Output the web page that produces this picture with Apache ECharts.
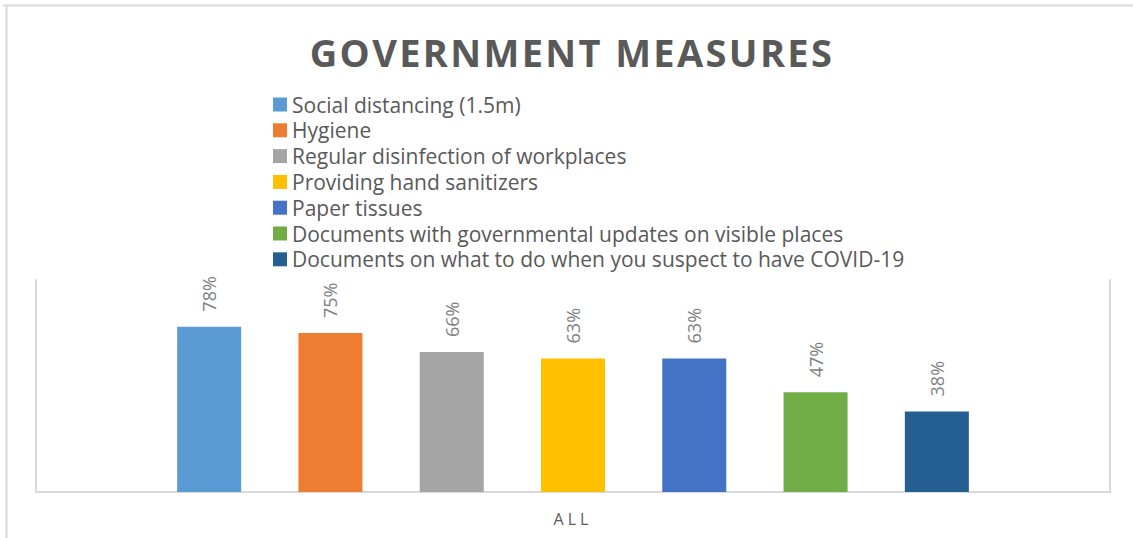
<!DOCTYPE html>
<html>
<head>
<meta charset="utf-8">
<title>Government measures</title>
<script src="https://cdn.jsdelivr.net/npm/echarts@6/dist/echarts.min.js"></script>
<style>
  html, body { margin: 0; padding: 0; background: #ffffff; }
  #chart { width: 1133px; height: 538px; }
</style>
</head>
<body>
<div id="chart"></div>
<script>
// Survey data: share of respondents reporting each measure
const categories = ['ALL'];
const seriesNames = [
  'Social distancing (1.5m)',
  'Hygiene',
  'Regular disinfection of workplaces',
  'Providing hand sanitizers',
  'Paper tissues',
  'Documents with governmental updates on visible places',
  'Documents on what to do when you suspect to have COVID-19'
];
const seriesValues = [78, 75, 66, 63, 63, 47, 38];
const seriesColors = ['#5B9BD5', '#ED7D31', '#A5A5A5', '#FFC000', '#4472C4', '#70AD47', '#255E91'];
const titleText = 'GOVERNMENT MEASURES';

const FONT = 'Open Sans';
const frame = '#d9d9d9';

const chart = echarts.init(document.getElementById('chart'), null, { renderer: 'svg' });

const series = seriesNames.map((name, i) => ({
  type: 'bar',
  name: name,
  data: [seriesValues[i]],
  barWidth: 64,
  barGap: '89.5%',
  itemStyle: { color: seriesColors[i] },
  label: {
    show: true,
    position: 'top',
    rotate: 90,
    align: 'left',
    verticalAlign: 'middle',
    distance: 15,
    formatter: '{c}%',
    color: '#7f7f7f',
    fontFamily: FONT,
    fontSize: 18
  }
}));

chart.setOption({
  animation: false,
  backgroundColor: '#ffffff',
  title: {
    text: titleText,
    left: 567,
    textAlign: 'center',
    top: 28,
    textStyle: { fontFamily: FONT, fontWeight: 'bold', fontSize: 38, color: '#595959' }
  },
  legend: {
    orient: 'vertical',
    left: 273,
    top: 93.5,
    padding: 0,
    itemWidth: 14,
    itemHeight: 14,
    itemGap: 3.8,
    icon: 'rect',
    selectedMode: false,
    textStyle: { fontFamily: FONT, fontSize: 21, lineHeight: 22, color: '#595959' }
  },
  grid: { left: 36, right: 23, top: 280, bottom: 46, containLabel: false },
  xAxis: {
    type: 'category',
    data: categories,
    axisLine: { show: true, lineStyle: { color: frame, width: 2 } },
    axisTick: { show: false },
    axisLabel: { color: '#595959', fontFamily: FONT, fontSize: 16, margin: 19 }
  },
  yAxis: [
    {
      type: 'value', min: 0, max: 100, position: 'left',
      axisLine: { show: true, lineStyle: { color: frame, width: 2 } },
      axisLabel: { show: false }, axisTick: { show: false }, splitLine: { show: false }
    },
    {
      type: 'value', min: 0, max: 100, position: 'right',
      axisLine: { show: true, lineStyle: { color: frame, width: 2 } },
      axisLabel: { show: false }, axisTick: { show: false }, splitLine: { show: false }
    }
  ],
  graphic: [
    { type: 'line', shape: { x1: 3, y1: 5.5, x2: 1133, y2: 5.5 }, style: { stroke: frame, lineWidth: 2 }, silent: true },
    { type: 'line', shape: { x1: 6.5, y1: 5, x2: 6.5, y2: 538 }, style: { stroke: frame, lineWidth: 2 }, silent: true }
  ],
  series: series
});

// Spaced-out lettering for the title and the category label
const spacing = { 'GOVERNMENT MEASURES': '2.35px', 'ALL': '4px' };
chart.getDom().querySelectorAll('text').forEach(t => {
  const s = spacing[t.textContent];
  if (s) t.style.letterSpacing = s;
});
</script>
</body>
</html>
